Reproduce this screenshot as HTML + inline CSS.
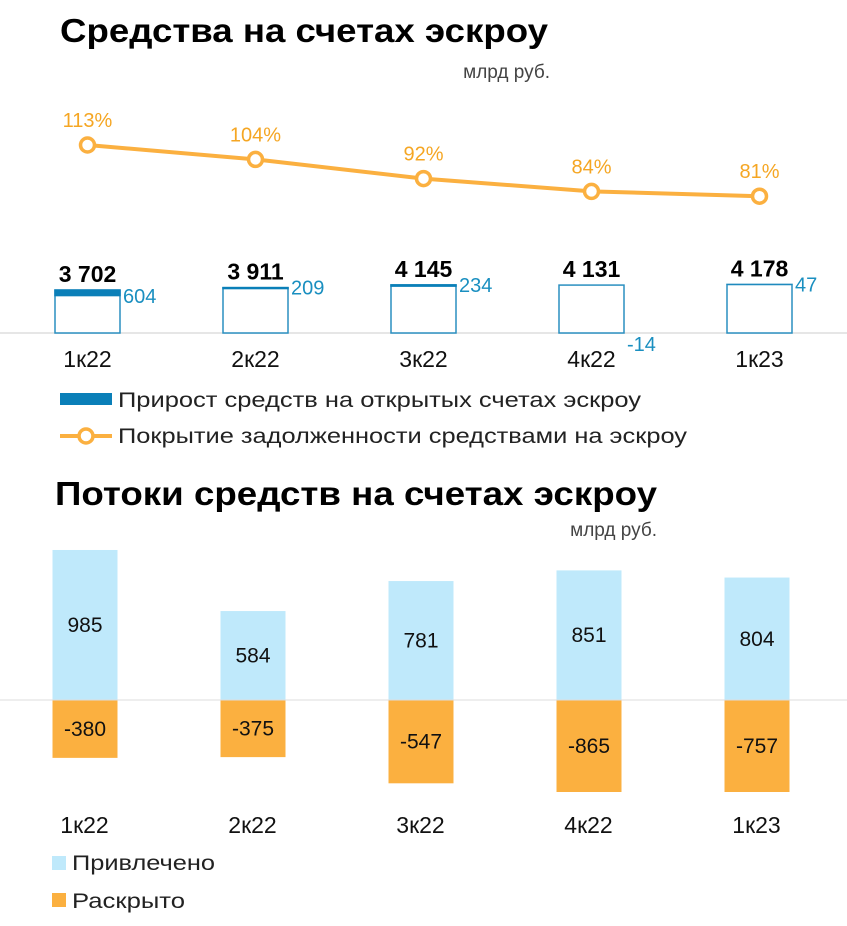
<!DOCTYPE html>
<html><head><meta charset="utf-8"><style>
body{margin:0;background:#fff;width:847px;height:921px;overflow:hidden;font-family:"Liberation Sans","DejaVu Sans",sans-serif}
svg text{font-family:"Liberation Sans","DejaVu Sans",sans-serif}
</style></head><body>
<svg id="c" width="847" height="921">
<text x="60" y="42" font-size="33" font-weight="bold" fill="#000" textLength="488" lengthAdjust="spacingAndGlyphs">Средства на счетах эскроу</text>
<text x="550" y="78" font-size="19" fill="#444" text-anchor="end">млрд руб.</text>
<line x1="0" y1="333" x2="847" y2="333" stroke="#ddd" stroke-width="1.5"/>
<g id="topG"></g>
<rect x="60" y="393" width="52" height="12" fill="#0a7fb8"/>
<text x="118" y="407" font-size="21" fill="#222" textLength="523" lengthAdjust="spacingAndGlyphs">Прирост средств на открытых счетах эскроу</text>
<line x1="60" y1="436" x2="112" y2="436" stroke="#fbb040" stroke-width="4"/>
<circle cx="86" cy="436" r="7" fill="#fff" stroke="#fbb040" stroke-width="3.5"/>
<text x="118" y="443" font-size="21" fill="#222" textLength="569" lengthAdjust="spacingAndGlyphs">Покрытие задолженности средствами на эскроу</text>
<text x="55" y="505" font-size="33" font-weight="bold" fill="#000" textLength="602" lengthAdjust="spacingAndGlyphs">Потоки средств на счетах эскроу</text>
<text x="657" y="536" font-size="19" fill="#444" text-anchor="end">млрд руб.</text>
<g id="botG"></g>
<line x1="0" y1="700" x2="847" y2="700" stroke="#ddd" stroke-width="1"/>
<rect x="52" y="856" width="14" height="14" fill="#bfe9fb"/>
<text x="72" y="870" font-size="21" fill="#222" textLength="143" lengthAdjust="spacingAndGlyphs">Привлечено</text>
<rect x="52" y="893" width="14" height="14" fill="#fbb040"/>
<text x="72" y="908" font-size="21" fill="#222" textLength="113" lengthAdjust="spacingAndGlyphs">Раскрыто</text>
</svg>
<script>
const categories=["1к22","2к22","3к22","4к22","1к23"];
const balances=[3702,3911,4145,4131,4178];
const balanceLabels=["3 702","3 911","4 145","4 131","4 178"];
const growth=[604,209,234,-14,47];
const coverage=[113,104,92,84,81];
const inflows=[985,584,781,851,804];
const outflows=[-380,-375,-547,-865,-757];
const NS="http://www.w3.org/2000/svg";
function mk(p,tag,a,txt){const e=document.createElementNS(NS,tag);for(const k in a)e.setAttribute(k,a[k]);if(txt!==undefined)e.textContent=txt;p.appendChild(e);return e;}
const xC=i=>87.5+i*168;
const yBal=v=>333-v*0.0116;
const yGrow=v=>Math.max(v,0)*0.0116;
const yCov=v=>145+(113-v)*1.6;
const yFlow=v=>Math.min(792,700-v*0.1523);
const topG=document.getElementById('topG');
const pts=coverage.map((v,i)=>xC(i)+','+yCov(v)).join(' ');
const pl=mk(topG,'polyline',{points:pts,fill:'none',stroke:'#fbb040','stroke-width':4});


categories.forEach((c,i)=>{
  const x=xC(i)-32.5,y=yBal(balances[i]);
  const r=mk(topG,'rect',{x:x,y:y,width:65,height:333-y,fill:'#fff',stroke:'#2a8fc0','stroke-width':1.5});
  
  
  const g=yGrow(growth[i]);
  if(g>0){const gr=mk(topG,'rect',{x:x-0.75,y:y-0.75,width:66.5,height:g,fill:'#0a7fb8'});
    
    }
  const t=mk(topG,'text',{x:xC(i),y:y-8,'font-size':23,'font-weight':'bold','text-anchor':'middle',fill:'#000'},balanceLabels[i]);
  
  
  const gt=mk(topG,'text',{x:x+68,y:growth[i]<0?351:(i==0?303:y+7),'font-size':20,fill:'#1a8fc0'},String(growth[i]));
  
  
  const ct=mk(topG,'text',{x:xC(i),y:367,'font-size':23,'text-anchor':'middle',fill:'#111'},c);
  
  
  const cc=mk(topG,'circle',{cx:xC(i),cy:yCov(coverage[i]),r:7,fill:'#fff',stroke:'#fbb040','stroke-width':3.5});
  
  
  const cl=mk(topG,'text',{x:xC(i),y:yCov(coverage[i])-18,'font-size':20,'text-anchor':'middle',fill:'#f5a623'},coverage[i]+'%');
  
  
});
const botG=document.getElementById('botG');
categories.forEach((c,i)=>{
  const x=xC(i)-35,cx=xC(i)-3;
  const yi=yFlow(inflows[i]);
  const a=mk(botG,'rect',{x:x,y:yi,width:65,height:700-yi,fill:'#bfe9fb'});
  
  
  const yo=yFlow(outflows[i]);
  const b=mk(botG,'rect',{x:x,y:700,width:65,height:yo-700,fill:'#fbb040'});
  
  
  const ta=mk(botG,'text',{x:cx+0.5,y:(yi+700)/2+7,'font-size':21,'text-anchor':'middle',fill:'#111'},String(inflows[i]));
  
  
  const tb=mk(botG,'text',{x:cx+0.5,y:(yo+700)/2+7,'font-size':21,'text-anchor':'middle',fill:'#111'},String(outflows[i]));
  
  
  const ct=mk(botG,'text',{x:cx,y:833,'font-size':23,'text-anchor':'middle',fill:'#111'},c);
  
  
});
</script>
</body></html>
